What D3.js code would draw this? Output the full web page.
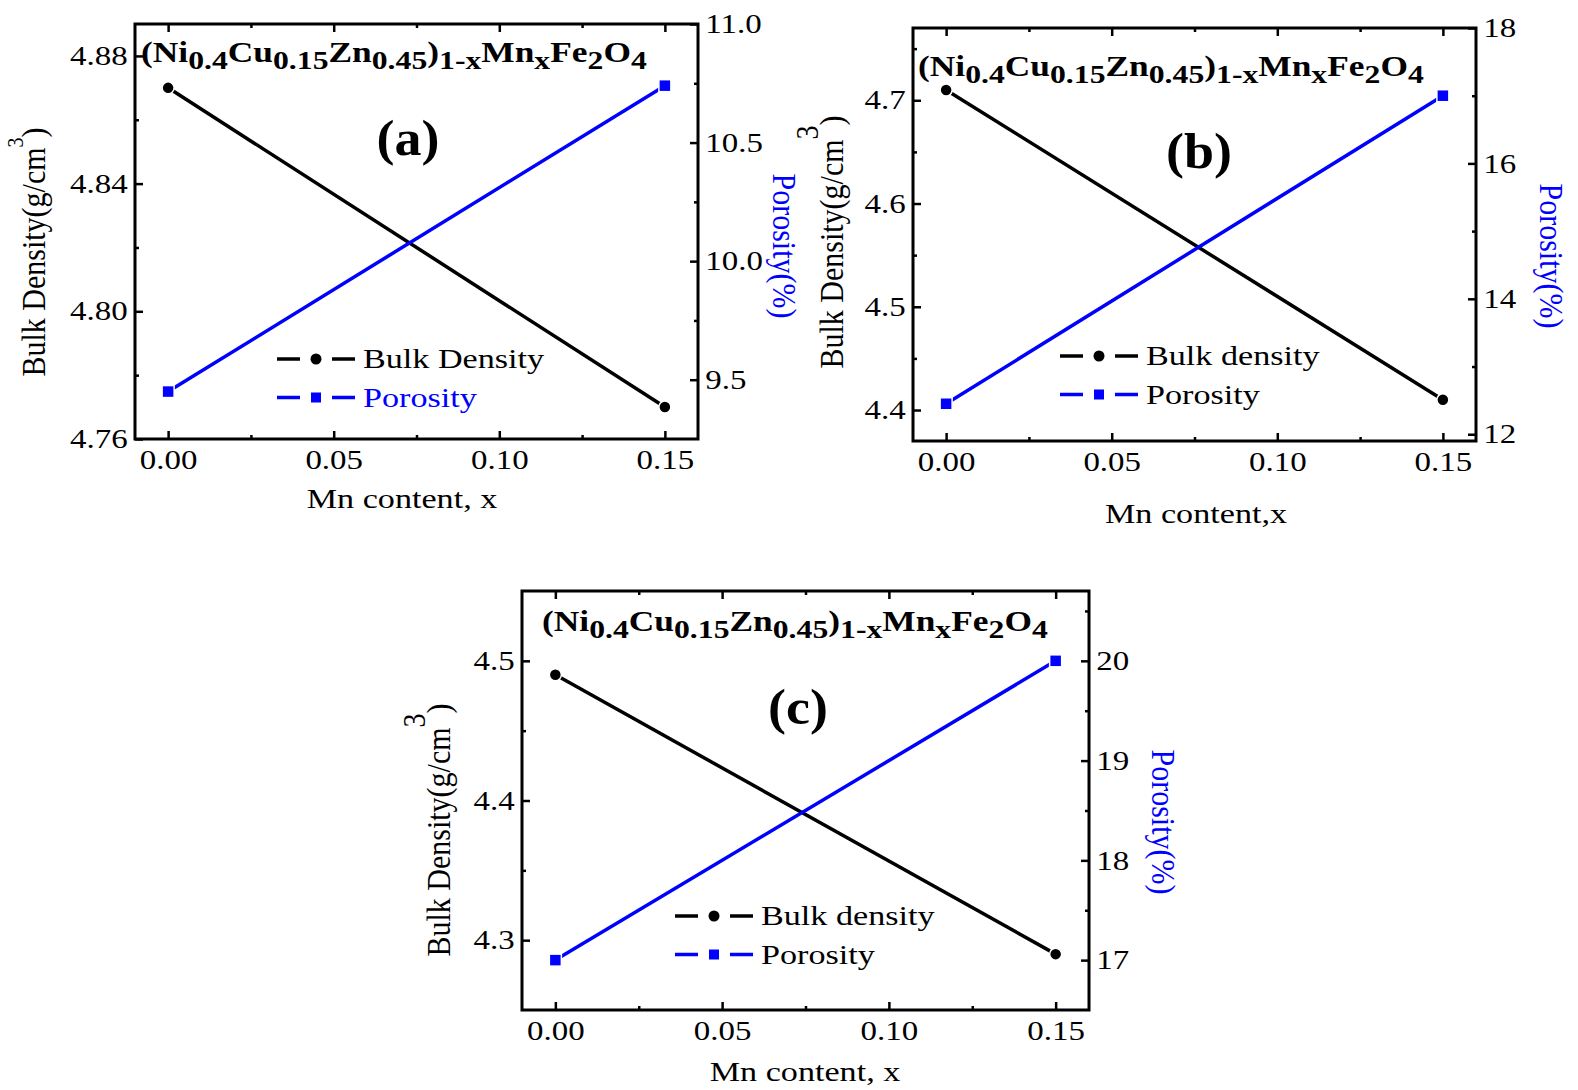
<!DOCTYPE html>
<html>
<head>
<meta charset="utf-8">
<script src="https://cdn.jsdelivr.net/npm/d3@7"></script>
<style>
  body { margin: 0; background: #fff; }
  svg text { font-family: 'Liberation Serif', 'Times New Roman', serif; }
</style>
</head>
<body>
<div id="chart"></div>
<script>
// values
var mnContent = [0, 0.15];
var densityA = [4.87, 4.77], porosityA = [9.45, 10.74];
var densityB = [4.71, 4.41], porosityB = [12.45, 17.0];
var densityC = [4.49, 4.29], porosityC = [17.0, 20.0];

var xTicks = [0, 0.05, 0.10, 0.15], xMinor = [0.025, 0.075, 0.125];
var leftTicksA = [4.76, 4.80, 4.84, 4.88], leftMinorA = [4.78, 4.82, 4.86];
var rightTicksA = [9.5, 10.0, 10.5, 11.0], rightMinorA = [9.75, 10.25, 10.75];
var leftTicksB = [4.4, 4.5, 4.6, 4.7], leftMinorB = [4.45, 4.55, 4.65, 4.75];
var rightTicksB = [12, 14, 16, 18], rightMinorB = [13, 15, 17];
var leftTicksC = [4.3, 4.4, 4.5], leftMinorC = [4.35, 4.45];
var rightTicksC = [17, 18, 19, 20], rightMinorC = [17.5, 18.5, 19.5, 20.5];

var titleParts = [["(Ni", 0], ["0.4", 1], ["Cu", 0], ["0.15", 1], ["Zn", 0], ["0.45", 1],
                  [")", 0], ["1-x", 1], ["Mn", 0], ["x", 1], ["Fe", 0], ["2", 1], ["O", 0], ["4", 1]];

var SX = 1.22;   // the original figure is stretched sideways
var BLUE = "#0000ff";

var svg = d3.select("#chart").append("svg")
    .attr("width", 1578)
    .attr("height", 1090);

function stretched(g, x, y, size, txt) {
    return g.append("text")
        .attr("transform", "translate(" + x + "," + y + ") scale(" + SX + ",1)")
        .style("font-size", size + "px")
        .text(txt);
}

function panel(p) {
    var g = svg.append("g");
    var x = d3.scaleLinear().domain([-0.01, 0.16]).range([p.left, p.right]);
    var yL = d3.scaleLinear().domain(p.leftDomain).range([p.bottom, p.top]);
    var yR = d3.scaleLinear().domain(p.rightDomain).range([p.bottom, p.top]);

    function ticks(makeAxis, tr, major, minor, fmt) {
        var a = g.append("g").attr("transform", tr)
            .call(makeAxis().tickValues(major).tickSize(-8).tickPadding(fmt ? 6 : 0)
                .tickFormat(fmt ? d3.format(fmt) : ""));
        var b = g.append("g").attr("transform", tr)
            .call(makeAxis().tickValues(minor).tickSize(-4).tickFormat(""));
        [a, b].forEach(function (s) {
            s.select(".domain").remove();
            s.selectAll("line").attr("stroke", "#000").attr("stroke-width", 2.5);
            s.selectAll("text").attr("fill", "#000").style("font-size", "27px")
                .attr("transform", "scale(" + SX + ",1)");
        });
        return a;
    }

    var bx = ticks(function () { return d3.axisBottom(x); }, "translate(0," + p.bottom + ")", xTicks, xMinor, ".2f");
    bx.selectAll("text").attr("y", 11);
    ticks(function () { return d3.axisTop(x); }, "translate(0," + p.top + ")", xTicks, xMinor, null);
    ticks(function () { return d3.axisLeft(yL); }, "translate(" + p.left + ",0)", p.leftTicks, p.leftMinor, p.leftFmt);
    ticks(function () { return d3.axisRight(yR); }, "translate(" + p.right + ",0)", p.rightTicks, p.rightMinor, p.rightFmt);

    g.append("rect")
        .attr("x", p.left).attr("y", p.top)
        .attr("width", p.right - p.left).attr("height", p.bottom - p.top)
        .attr("fill", "none").attr("stroke", "#000").attr("stroke-width", 3);

    var dens = mnContent.map(function (m, i) { return [m, p.density[i]]; });
    var poro = mnContent.map(function (m, i) { return [m, p.porosity[i]]; });

    g.append("path").datum(dens)
        .attr("d", d3.line().x(function (d) { return x(d[0]); }).y(function (d) { return yL(d[1]); }))
        .attr("fill", "none").attr("stroke", "#000").attr("stroke-width", 3.5);
    g.append("path").datum(poro)
        .attr("d", d3.line().x(function (d) { return x(d[0]); }).y(function (d) { return yR(d[1]); }))
        .attr("fill", "none").attr("stroke", BLUE).attr("stroke-width", 3.5);

    g.selectAll(".dot").data(dens).enter().append("circle")
        .attr("cx", function (d) { return x(d[0]); })
        .attr("cy", function (d) { return yL(d[1]); })
        .attr("r", 6).attr("fill", "#000").attr("stroke", "#fff").attr("stroke-width", 1.5);
    g.selectAll(".sq").data(poro).enter().append("rect")
        .attr("x", function (d) { return x(d[0]) - 6; })
        .attr("y", function (d) { return yR(d[1]) - 6; })
        .attr("width", 12).attr("height", 12)
        .attr("fill", BLUE).attr("stroke", "#fff").attr("stroke-width", 1.5);

    // formula title
    var t = g.append("text")
        .attr("transform", "translate(" + p.titleX + "," + p.titleY + ") scale(" + SX + ",1)")
        .style("font-weight", "bold");
    titleParts.forEach(function (part) {
        t.append("tspan").attr("y", part[1] ? 7 : 0)
            .style("font-size", (part[1] ? 26 : 29) + "px")
            .text(part[0]);
    });

    // (a) (b) (c)
    g.append("text")
        .attr("transform", "translate(" + p.tagX + "," + p.tagY + ") scale(1.08,1)")
        .attr("text-anchor", "middle")
        .style("font-size", "50px").style("font-weight", "bold")
        .text(p.tag);

    // axis titles
    stretched(g, p.xLabelX, p.xLabelY, 28, p.xLabel).attr("text-anchor", "middle");

    var yl = g.append("text")
        .attr("transform", "translate(" + p.yLabelX + "," + p.yLabelY + ") scale(1.12,1) rotate(-90)")
        .attr("text-anchor", "middle")
        .style("font-size", "30px");
    yl.append("tspan").text("Bulk Density(g/cm");
    yl.append("tspan").attr("dy", p.supDy).style("font-size", p.supSize + "px").text("3");
    yl.append("tspan").attr("dy", -p.supDy).text(")");

    g.append("text")
        .attr("transform", "translate(" + p.rLabelX + "," + p.rLabelY + ") scale(1.12,1) rotate(90)")
        .attr("text-anchor", "middle")
        .attr("fill", BLUE)
        .style("font-size", "30px")
        .text("Porosity(%)");

    // legend
    var rows = [
        {label: p.densLabel, color: "#000", textColor: "#000", shape: "circle"},
        {label: "Porosity", color: BLUE, textColor: p.poroTextColor, shape: "square"}
    ];
    rows.forEach(function (r, i) {
        var y = p.legendY + i * 38.5;
        var lx = p.legendX;
        g.append("line").attr("x1", lx).attr("x2", lx + 23).attr("y1", y).attr("y2", y)
            .attr("stroke", r.color).attr("stroke-width", 3.5);
        g.append("line").attr("x1", lx + 55).attr("x2", lx + 78).attr("y1", y).attr("y2", y)
            .attr("stroke", r.color).attr("stroke-width", 3.5);
        if (r.shape === "circle") {
            g.append("circle").attr("cx", lx + 39).attr("cy", y).attr("r", 5.5).attr("fill", r.color);
        } else {
            g.append("rect").attr("x", lx + 34).attr("y", y - 5).attr("width", 10).attr("height", 10)
                .attr("fill", r.color);
        }
        stretched(g, lx + 86, y + 9, 28, r.label).attr("fill", r.textColor);
    });
}

panel({
    left: 135, right: 698, top: 24, bottom: 439,
    leftDomain: [4.76, 4.89], rightDomain: [9.25, 11.0],
    leftTicks: leftTicksA, leftMinor: leftMinorA, leftFmt: ".2f",
    rightTicks: rightTicksA, rightMinor: rightMinorA, rightFmt: ".1f",
    density: densityA, porosity: porosityA,
    titleX: 141, titleY: 62, tag: "(a)", tagX: 408, tagY: 155,
    xLabel: "Mn content, x", xLabelX: 402, xLabelY: 508,
    yLabelX: 45, yLabelY: 252, supDy: -20, supSize: 20,
    rLabelX: 773, rLabelY: 246,
    densLabel: "Bulk Density", poroTextColor: BLUE, legendX: 277, legendY: 359
});

panel({
    left: 913, right: 1476, top: 28, bottom: 441,
    leftDomain: [4.37, 4.77], rightDomain: [11.9, 18.0],
    leftTicks: leftTicksB, leftMinor: leftMinorB, leftFmt: ".1f",
    rightTicks: rightTicksB, rightMinor: rightMinorB, rightFmt: "d",
    density: densityB, porosity: porosityB,
    titleX: 918, titleY: 76, tag: "(b)", tagX: 1199, tagY: 168,
    xLabel: "Mn content,x", xLabelX: 1196, xLabelY: 523,
    yLabelX: 843, yLabelY: 242, supDy: -22, supSize: 28,
    rLabelX: 1540, rLabelY: 256,
    densLabel: "Bulk density", poroTextColor: "#000", legendX: 1060, legendY: 356
});

panel({
    left: 522, right: 1089, top: 591, bottom: 1010,
    leftDomain: [4.25, 4.55], rightDomain: [16.5, 20.7],
    leftTicks: leftTicksC, leftMinor: leftMinorC, leftFmt: ".1f",
    rightTicks: rightTicksC, rightMinor: rightMinorC, rightFmt: "d",
    density: densityC, porosity: porosityC,
    titleX: 542, titleY: 631, tag: "(c)", tagX: 798, tagY: 724,
    xLabel: "Mn content, x", xLabelX: 805, xLabelY: 1081,
    yLabelX: 450, yLabelY: 830, supDy: -22, supSize: 28,
    rLabelX: 1152, rLabelY: 822,
    densLabel: "Bulk density", poroTextColor: "#000", legendX: 675, legendY: 916
});
</script>
</body>
</html>
